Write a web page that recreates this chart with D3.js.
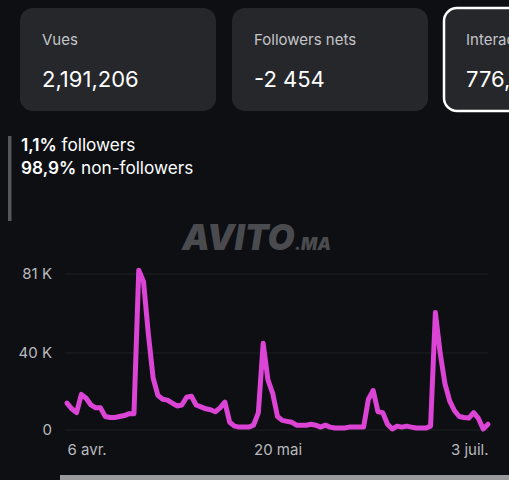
<!DOCTYPE html>
<html><head><meta charset="utf-8">
<script src="https://cdn.jsdelivr.net/npm/d3@7"></script>
<style>
html,body{margin:0;padding:0;background:#0d0f13;overflow:hidden;}
svg{display:block;font-family:Inter,"Noto Sans",sans-serif;}
</style></head>
<body>
<svg id="c" width="509" height="480"></svg>
<script>
// ---- data ----
const startDate = "2024-04-06";
const views = [14,11,9,18.5,16.5,13,11.5,11.5,7,6.5,6.5,7,7.5,8.5,8.5,83,77,50,27,18,16,15.5,14,12.5,13,17,17.5,13,12,11,10.5,9.5,11.5,14.5,4,2,1.5,1.5,1.5,2.5,9,45,26,19,7,5,4.5,4,2.5,2.5,2.5,3,2.5,1.5,2.5,1.5,1,1,1,1.5,1.5,1.5,1.5,16,20.5,9.5,9,3,0.5,2,1.5,2,1.5,1,1,1,2,61,40,24,15,10,7,6.5,6.2,9,6,0.5,3];
const yTicks = [0,40,81];
const yTickLabels = ["0","40 K","81 K"];
const xTickDates = ["2024-04-06","2024-05-20","2024-07-03"];
const xTickLabels = ["6 avr.","20 mai","3 juil."];
const cardTitles = ["Vues","Followers nets","Interactions"];
const cardValues = ["2,191,206","-2 454","776,118"];
const audience = [["1,1%"," followers"],["98,9%"," non-followers"]];

const svg = d3.select("#c");
const parse = d3.timeParse("%Y-%m-%d");
const d0 = parse(startDate);
const data = views.map((v,i)=>({date:d3.timeDay.offset(d0,i), v}));

// ---- cards ----
const cardX = [20,232,444];
const cards = svg.selectAll("g.card").data(cardTitles).join("g").attr("class","card")
  .attr("transform",(d,i)=>`translate(${cardX[i]},8)`);
cards.append("rect").attr("width",196).attr("height",103).attr("rx",13)
  .attr("fill","#26272b")
  .attr("stroke",(d,i)=>i===2?"#ffffff":"none").attr("stroke-width",2.5);
cards.append("text").attr("x",22).attr("y",37).attr("fill","#c4c5c9")
  .attr("font-size",15).text(d=>d);
cards.append("text").attr("x",22).attr("y",79).attr("fill","#ffffff")
  .attr("font-size",22).text((d,i)=>cardValues[i]);

// ---- audience ----
svg.append("rect").attr("x",8).attr("y",136).attr("width",3.5).attr("height",85).attr("fill","#55575c");
audience.forEach((a,i)=>{
  const t = svg.append("text").attr("x",21).attr("y",151+i*23).attr("fill","#ffffff").attr("font-size",17.2);
  t.append("tspan").attr("font-weight",600).text(a[0]);
  t.append("tspan").text(a[1]);
});

// ---- watermark ----
const wm = svg.append("text").attr("x",182).attr("y",250).attr("fill","#4a4b4e")
  .attr("font-weight",900).attr("font-style","italic");
wm.append("tspan").attr("font-size",35).text("AVITO");
wm.append("tspan").attr("font-size",17).text(".MA");

// ---- chart ----
const x = d3.scaleTime().domain([d0, data[data.length-1].date]).range([67,488]);
const y = d3.scaleLinear().domain([0,81]).range([430,274]);

svg.append("g").selectAll("line").data(yTicks).join("line")
  .attr("x1",65).attr("x2",488).attr("y1",d=>y(d)).attr("y2",d=>y(d))
  .attr("stroke","#1e2025").attr("stroke-width",1);

const yAxis = d3.axisLeft(y).tickValues(yTicks).tickSize(0).tickPadding(0)
  .tickFormat((d,i)=>yTickLabels[i]);
const ya = svg.append("g").attr("transform","translate(52,0)").call(yAxis);
ya.select(".domain").remove();
ya.selectAll("text").attr("fill","#b9babe").attr("font-size",15).attr("font-family","Inter,sans-serif");

const xAxis = d3.axisBottom(x).tickValues(xTickDates.map(parse)).tickSize(0).tickPadding(0)
  .tickFormat((d,i)=>xTickLabels[i]);
const xa = svg.append("g").attr("transform","translate(0,444)").call(xAxis);
xa.select(".domain").remove();
xa.selectAll("text").attr("fill","#b9babe").attr("font-size",15).attr("font-family","Inter,sans-serif")
  .attr("text-anchor",(d,i)=>i===0?"start":(i===xTickDates.length-1?"end":"middle"));

const line = d3.line().x(d=>x(d.date)).y(d=>y(d.v));
svg.append("path").datum(data).attr("d",line).attr("fill","none")
  .attr("stroke","#dc44d6").attr("stroke-width",5).attr("stroke-linejoin","round").attr("stroke-linecap","round");

// bottom bar
svg.append("rect").attr("x",60).attr("y",475).attr("width",449).attr("height",5).attr("fill","#9a9a9c");
</script>
</body></html>
